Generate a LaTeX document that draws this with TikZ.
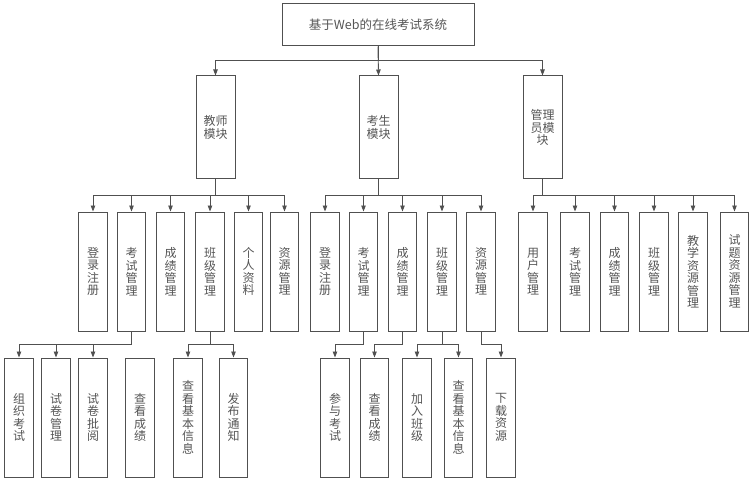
\documentclass[tikz,border=0pt]{standalone}
\usepackage{fontspec}
\usepackage{tikz}
\usetikzlibrary{arrows.meta}
\newfontfamily\cjk{Noto Sans CJK SC}
\definecolor{boxline}{RGB}{80,80,80}
\definecolor{txt}{RGB}{85,85,85}

\begin{document}
\begin{tikzpicture}[x=1pt, y=-1pt,
  sys/.style={draw=boxline, line width=1pt, minimum width=192pt, minimum height=42pt, inner sep=0pt, font=\cjk\fontsize{12.5}{14}\selectfont, text=txt},
  mod/.style={draw=boxline, line width=1pt, minimum width=39pt, minimum height=103pt, inner sep=0pt, align=center, font=\cjk\fontsize{12}{12.5}\selectfont, text=txt},
  sub/.style={draw=boxline, line width=1pt, minimum width=28.5pt, minimum height=119pt, inner sep=0pt, align=center, font=\cjk\fontsize{12}{12.5}\selectfont, text=txt},
  arr/.style={-{Triangle[length=6pt, width=4.5pt]}, line width=0.9pt, color=boxline},
]
\useasboundingbox (0,0) rectangle (749,481);

\node[sys] (sys) at (378,25) {基于Web的在线考试系统};

\node[mod] (tea) at (215.5,127.5) {教师\\模块};
\node[mod] (stu) at (378.5,127.5) {考生\\模块};
\node[mod] (adm) at (542.5,127.5) {管理\\员模\\块};

% teacher
\node[sub] (t1) at (93,271.5) {登\\录\\注\\册};
\node[sub] (t2) at (131.5,271.5) {考\\试\\管\\理};
\node[sub] (t3) at (170.5,271.5) {成\\绩\\管\\理};
\node[sub] (t4) at (210,271.5) {班\\级\\管\\理};
\node[sub] (t5) at (248.5,271.5) {个\\人\\资\\料};
\node[sub] (t6) at (284.5,271.5) {资\\源\\管\\理};

\node[sub] (t21) at (19,417.5) {组\\织\\考\\试};
\node[sub] (t22) at (56,417.5) {试\\卷\\管\\理};
\node[sub] (t23) at (93,417.5) {试\\卷\\批\\阅};
\node[sub] (t31) at (140,417.5) {查\\看\\成\\绩};
\node[sub] (t41) at (188,417.5) {查\\看\\基\\本\\信\\息};
\node[sub] (t42) at (233.5,417.5) {发\\布\\通\\知};

% student
\node[sub] (s1) at (325,271.5) {登\\录\\注\\册};
\node[sub] (s2) at (363.5,271.5) {考\\试\\管\\理};
\node[sub] (s3) at (402.5,271.5) {成\\绩\\管\\理};
\node[sub] (s4) at (442,271.5) {班\\级\\管\\理};
\node[sub] (s5) at (481,271.5) {资\\源\\管\\理};

\node[sub] (s21) at (335,417.5) {参\\与\\考\\试};
\node[sub] (s31) at (374.5,417.5) {查\\看\\成\\绩};
\node[sub] (s41) at (417,417.5) {加\\入\\班\\级};
\node[sub] (s42) at (458.5,417.5) {查\\看\\基\\本\\信\\息};
\node[sub] (s51) at (501,417.5) {下\\载\\资\\源};

% admin
\node[sub] (a1) at (533,271.5) {用\\户\\管\\理};
\node[sub] (a2) at (575,271.5) {考\\试\\管\\理};
\node[sub] (a3) at (614.5,271.5) {成\\绩\\管\\理};
\node[sub] (a4) at (654,271.5) {班\\级\\管\\理};
\node[sub] (a5) at (693,271.5) {教\\学\\资\\源\\管\\理};
\node[sub] (a6) at (734.5,271.5) {试\\题\\资\\源\\管\\理};

\draw[arr] (sys.south) -- ++(0,14) -| (tea.north);
\draw[arr] (sys.south) -- (stu.north);
\draw[arr] (sys.south) -- ++(0,14) -| (adm.north);

\draw[arr] (tea.south) -- ++(0,16) -| (t1.north);
\draw[arr] (tea.south) -- ++(0,16) -| (t2.north);
\draw[arr] (tea.south) -- ++(0,16) -| (t3.north);
\draw[arr] (tea.south) -- ++(0,16) -| (t4.north);
\draw[arr] (tea.south) -- ++(0,16) -| (t5.north);
\draw[arr] (tea.south) -- ++(0,16) -| (t6.north);

\draw[arr] (stu.south) -- ++(0,16) -| (s1.north);
\draw[arr] (stu.south) -- ++(0,16) -| (s2.north);
\draw[arr] (stu.south) -- ++(0,16) -| (s3.north);
\draw[arr] (stu.south) -- ++(0,16) -| (s4.north);
\draw[arr] (stu.south) -- ++(0,16) -| (s5.north);

\draw[arr] (adm.south) -- ++(0,16) -| (a1.north);
\draw[arr] (adm.south) -- ++(0,16) -| (a2.north);
\draw[arr] (adm.south) -- ++(0,16) -| (a3.north);
\draw[arr] (adm.south) -- ++(0,16) -| (a4.north);
\draw[arr] (adm.south) -- ++(0,16) -| (a5.north);
\draw[arr] (adm.south) -- ++(0,16) -| (a6.north);

\draw[arr] (t2.south) -- ++(0,13) -| (t21.north);
\draw[arr] (t2.south) -- ++(0,13) -| (t22.north);
\draw[arr] (t2.south) -- ++(0,13) -| (t23.north);
\draw[arr] (t4.south) -- ++(0,13) -| (t41.north);
\draw[arr] (t4.south) -- ++(0,13) -| (t42.north);

\draw[arr] (s2.south) -- ++(0,13) -| (s21.north);
\draw[arr] (s3.south) -- ++(0,13) -| (s31.north);
\draw[arr] (s4.south) -- ++(0,13) -| (s41.north);
\draw[arr] (s4.south) -- ++(0,13) -| (s42.north);
\draw[arr] (s5.south) -- ++(0,13) -| (s51.north);

\end{tikzpicture}
\end{document}
